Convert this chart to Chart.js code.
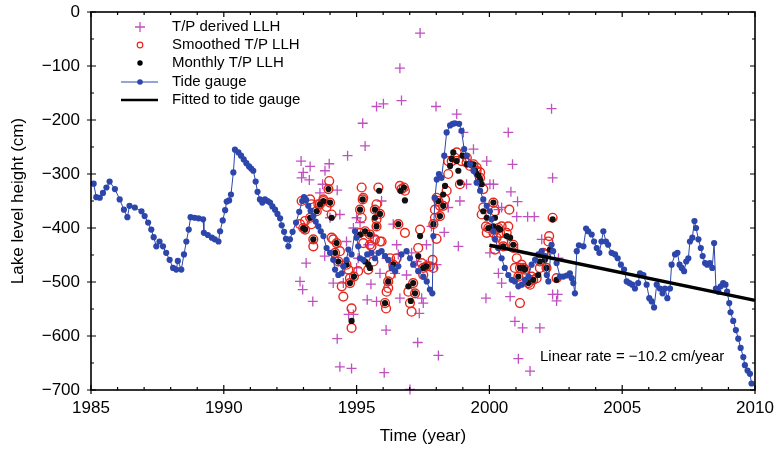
<!DOCTYPE html>
<html>
<head>
<meta charset="utf-8">
<script src="https://cdn.jsdelivr.net/npm/chart.js@4.4.1/dist/chart.umd.min.js"></script>
<style>
html,body{margin:0;padding:0;background:#fff;}
#c{display:block;}
</style>
</head>
<body>
<canvas id="c" width="776" height="450"></canvas>
<script>
// ---------- DATA ----------
const xTicks = [1985, 1990, 1995, 2000, 2005, 2010];
const xMinorTicks = [1985,1986,1987,1988,1989,1990,1991,1992,1993,1994,1995,1996,1997,1998,1999,2000,2001,2002,2003,2004,2005,2006,2007,2008,2009,2010];
const yTicks = [0, -100, -200, -300, -400, -500, -600, -700];
const yMinorTicks = [0,-50,-100,-150,-200,-250,-300,-350,-400,-450,-500,-550,-600,-650,-700];

const legendLabels = ["T/P derived LLH", "Smoothed T/P LLH", "Monthly T/P LLH", "Tide gauge", "Fitted to tide gauge"];
const rateText = "Linear rate = \u221210.2 cm/year";

// Tide gauge
const tgYear = [1985.1,1985.2,1985.33,1985.45,1985.58,1985.7,1985.9,1986.08,1986.24,1986.37,1986.45,1986.65,1986.9,1987.02,1987.15,1987.27,1987.36,1987.46,1987.58,1987.71,1987.83,1987.96,1988.09,1988.21,1988.27,1988.4,1988.5,1988.59,1988.68,1988.75,1988.9,1989.05,1989.22,1989.25,1989.4,1989.55,1989.66,1989.8,1989.86,1989.96,1990.05,1990.11,1990.2,1990.27,1990.36,1990.42,1990.55,1990.65,1990.75,1990.85,1990.95,1991.03,1991.11,1991.2,1991.27,1991.36,1991.45,1991.55,1991.65,1991.74,1991.83,1991.93,1992.02,1992.12,1992.18,1992.27,1992.34,1992.43,1992.49,1992.59,1992.72,1992.84,1992.95,1993.02,1993.1,1993.18,1993.27,1993.37,1993.46,1993.56,1993.65,1993.75,1993.87,1994.0,1994.12,1994.19,1994.31,1994.44,1994.5,1994.62,1994.69,1994.81,1994.94,1995.0,1995.06,1995.13,1995.25,1995.4,1995.56,1995.69,1995.82,1995.94,1996.07,1996.19,1996.32,1996.45,1996.57,1996.69,1996.88,1997.01,1997.13,1997.32,1997.51,1997.64,1997.76,1997.85,1997.89,1997.95,1998.02,1998.1,1998.2,1998.3,1998.39,1998.52,1998.62,1998.7,1998.86,1998.95,1999.05,1999.15,1999.27,1999.4,1999.52,1999.65,1999.77,1999.9,2000.02,2000.08,2000.15,2000.21,2000.33,2000.46,2000.58,2000.71,2000.84,2000.96,2001.09,2001.22,2001.34,2001.47,2001.59,2001.72,2001.84,2001.97,2002.09,2002.16,2002.22,2002.34,2002.4,2002.53,2002.66,2002.78,2002.91,2003.03,2003.1,2003.16,2003.22,2003.29,2003.37,2003.54,2003.64,2003.72,2003.85,2003.94,2004.04,2004.14,2004.22,2004.29,2004.39,2004.47,2004.6,2004.73,2004.83,2004.95,2005.07,2005.17,2005.27,2005.38,2005.48,2005.6,2005.67,2005.8,2005.92,2006.02,2006.11,2006.2,2006.3,2006.42,2006.52,2006.61,2006.7,2006.8,2006.86,2006.99,2007.08,2007.16,2007.24,2007.33,2007.41,2007.49,2007.55,2007.64,2007.72,2007.78,2007.87,2007.96,2008.03,2008.12,2008.2,2008.3,2008.39,2008.46,2008.53,2008.62,2008.71,2008.8,2008.89,2008.95,2009.03,2009.08,2009.18,2009.28,2009.37,2009.46,2009.56,2009.62,2009.72,2009.81,2009.87];
const tgLevel = [-318,-343,-344,-335,-325,-314,-328,-347,-366,-380,-359,-362,-369,-378,-390,-403,-417,-434,-425,-434,-446,-459,-474,-477,-461,-477,-449,-425,-403,-380,-381,-382,-384,-409,-413,-418,-421,-425,-406,-386,-367,-351,-349,-338,-297,-255,-260,-266,-273,-280,-286,-290,-294,-314,-333,-347,-353,-347,-350,-353,-360,-366,-374,-382,-395,-407,-420,-434,-421,-407,-390,-370,-350,-343,-348,-359,-368,-378,-388,-397,-406,-415,-437,-446,-459,-477,-487,-484,-471,-459,-440,-449,-406,-418,-434,-456,-459,-449,-446,-456,-446,-443,-452,-459,-474,-480,-471,-449,-443,-456,-468,-480,-490,-499,-514,-521,-415,-344,-310,-300,-307,-266,-223,-210,-207,-206,-207,-220,-254,-266,-282,-294,-316,-331,-347,-359,-369,-384,-406,-421,-437,-456,-474,-487,-496,-499,-508,-505,-496,-490,-468,-459,-449,-443,-452,-487,-499,-431,-443,-465,-490,-490,-488,-484,-493,-502,-521,-443,-432,-434,-401,-406,-412,-425,-437,-446,-425,-406,-425,-431,-446,-449,-456,-468,-477,-499,-502,-505,-512,-502,-484,-487,-505,-530,-536,-547,-505,-512,-521,-512,-530,-512,-468,-449,-446,-468,-474,-480,-462,-456,-425,-418,-387,-400,-421,-437,-452,-465,-468,-465,-474,-428,-512,-518,-508,-502,-505,-518,-539,-556,-572,-589,-605,-622,-639,-654,-664,-670,-688];

// T/P derived LLH (crosses)
const tpYear = [1992.87,1992.91,1992.93,1992.97,1992.99,1993.1,1993.22,1993.25,1993.35,1993.62,1993.72,1993.8,1993.81,1993.97,1994.0,1994.12,1994.27,1994.27,1994.31,1994.37,1994.37,1994.5,1994.56,1994.62,1994.66,1994.7,1994.81,1994.88,1994.88,1995.0,1995.0,1995.06,1995.13,1995.23,1995.32,1995.4,1995.44,1995.5,1995.54,1995.63,1995.75,1995.75,1995.88,1995.94,1996.01,1996.04,1996.11,1996.13,1996.19,1996.38,1996.45,1996.51,1996.57,1996.63,1996.63,1996.69,1996.88,1997.01,1997.07,1997.26,1997.3,1997.36,1997.39,1997.45,1997.51,1997.63,1997.63,1997.82,1997.99,1998.01,1998.08,1998.3,1998.45,1998.77,1998.83,1998.89,1999.02,1999.14,1999.4,1999.46,1999.87,1999.9,2000.02,2000.02,2000.15,2000.34,2000.34,2000.46,2000.46,2000.71,2000.78,2000.81,2000.87,2000.96,2001.03,2001.06,2001.09,2001.25,2001.44,2001.53,2001.69,2001.9,2001.97,2002.34,2002.38,2002.38,2002.53,2002.57,2002.6];
const tpLevel = [-499,-276,-307,-514,-297,-465,-311,-286,-536,-335,-319,-452,-294,-281,-381,-502,-330,-605,-462,-375,-657,-502,-471,-425,-266,-560,-660,-400,-560,-381,-474,-456,-390,-206,-248,-533,-431,-446,-504,-415,-175,-536,-484,-350,-170,-668,-589,-456,-502,-393,-484,-431,-449,-104,-530,-164,-487,-699,-446,-462,-612,-558,-39,-530,-539,-431,-468,-397,-175,-468,-636,-408,-362,-189,-434,-350,-223,-319,-254,-288,-530,-276,-319,-446,-319,-366,-484,-362,-502,-223,-527,-333,-282,-573,-379,-351,-642,-585,-379,-665,-379,-585,-421,-179,-307,-523,-535,-523,-456];

// Smoothed T/P LLH (open circles)
const smYear = [1992.87,1992.93,1992.99,1993.06,1993.06,1993.25,1993.25,1993.3,1993.3,1993.37,1993.37,1993.5,1993.56,1993.62,1993.75,1993.75,1993.87,1993.94,1993.97,1994.0,1994.06,1994.06,1994.12,1994.19,1994.25,1994.31,1994.37,1994.44,1994.5,1994.62,1994.69,1994.75,1994.75,1994.81,1994.81,1994.9,1995.06,1995.13,1995.13,1995.19,1995.19,1995.23,1995.25,1995.25,1995.32,1995.44,1995.5,1995.5,1995.56,1995.63,1995.69,1995.69,1995.75,1995.75,1995.75,1995.82,1995.88,1995.88,1995.94,1996.07,1996.11,1996.13,1996.19,1996.19,1996.26,1996.26,1996.38,1996.51,1996.57,1996.63,1996.69,1996.78,1996.82,1996.82,1996.95,1997.01,1997.07,1997.13,1997.2,1997.32,1997.39,1997.45,1997.51,1997.51,1997.63,1997.76,1997.86,1997.89,1997.89,1997.95,1997.95,1998.01,1998.01,1998.08,1998.14,1998.14,1998.26,1998.33,1998.39,1998.45,1998.45,1998.58,1998.7,1998.77,1998.89,1998.95,1999.14,1999.15,1999.27,1999.4,1999.52,1999.52,1999.65,1999.65,1999.71,1999.77,1999.77,1999.87,1999.9,1999.96,2000.15,2000.15,2000.21,2000.21,2000.27,2000.34,2000.4,2000.46,2000.52,2000.52,2000.65,2000.71,2000.75,2000.9,2000.9,2000.96,2001.03,2001.09,2001.15,2001.15,2001.21,2001.28,2001.34,2001.47,2001.53,2001.59,2001.65,2001.78,2001.9,2001.9,2002.03,2002.09,2002.15,2002.22,2002.25,2002.38,2002.53];
const smLevel = [-393,-350,-400,-403,-387,-347,-381,-356,-393,-421,-434,-369,-356,-356,-350,-347,-361,-328,-313,-353,-375,-418,-421,-446,-428,-462,-443,-508,-527,-468,-477,-493,-502,-549,-585,-490,-480,-366,-409,-325,-381,-347,-428,-344,-406,-477,-412,-431,-434,-462,-366,-421,-397,-356,-384,-325,-374,-425,-425,-539,-549,-518,-499,-511,-456,-487,-468,-456,-393,-322,-328,-325,-331,-409,-518,-539,-555,-502,-521,-437,-403,-465,-474,-487,-471,-471,-459,-393,-474,-366,-381,-420,-344,-350,-378,-359,-359,-347,-331,-300,-276,-276,-270,-260,-319,-276,-279,-270,-285,-282,-294,-288,-307,-297,-375,-328,-362,-397,-409,-400,-353,-409,-369,-440,-418,-400,-409,-397,-434,-425,-409,-397,-366,-431,-437,-474,-456,-490,-474,-539,-468,-474,-477,-502,-505,-490,-496,-493,-462,-474,-446,-449,-474,-425,-415,-381,-493];

// Monthly T/P LLH (black dots)
const moYear = [1992.99,1993.06,1993.25,1993.37,1993.5,1993.62,1993.75,1993.94,1994.0,1994.06,1994.19,1994.25,1994.31,1994.62,1994.75,1994.81,1994.9,1995.13,1995.13,1995.23,1995.32,1995.32,1995.44,1995.5,1995.5,1995.69,1995.69,1995.75,1995.85,1995.88,1996.07,1996.19,1996.38,1996.57,1996.66,1996.78,1996.82,1996.95,1997.04,1997.13,1997.2,1997.32,1997.39,1997.51,1997.63,1997.89,1998.08,1998.14,1998.26,1998.26,1998.33,1998.52,1998.58,1998.64,1998.77,1998.83,1998.89,1998.99,1999.15,1999.27,1999.4,1999.46,1999.52,1999.59,1999.65,1999.71,1999.77,1999.9,1999.96,2000.15,2000.15,2000.21,2000.34,2000.4,2000.52,2000.65,2000.78,2000.9,2001.09,2001.15,2001.28,2001.34,2001.47,2001.65,2001.84,2001.9,2002.09,2002.15,2002.28,2002.38,2002.53];
const moLevel = [-400,-403,-381,-421,-369,-356,-350,-328,-353,-381,-446,-428,-462,-468,-502,-572,-490,-366,-412,-347,-406,-462,-468,-412,-474,-366,-381,-397,-331,-374,-539,-499,-468,-393,-331,-325,-349,-508,-535,-502,-521,-452,-415,-474,-471,-393,-350,-378,-359,-338,-322,-285,-272,-260,-276,-294,-316,-266,-282,-282,-282,-294,-300,-303,-310,-319,-369,-381,-400,-353,-397,-381,-400,-403,-434,-415,-418,-431,-490,-474,-474,-477,-502,-496,-487,-462,-459,-474,-440,-384,-496];

// Fitted line to tide gauge
const fitYear = [2000, 2010];
const fitLevel = [-432, -534];

// ---------- STYLE ----------
const FONT = "'Liberation Sans', Arial, Helvetica, sans-serif";
const C_CROSS = "#c04fc0";
const C_RED = "#e8281e";
const C_BLUE = "#2c46ab";
Chart.defaults.font.family = FONT;
Chart.defaults.color = "#000";

const pts = (xs, ys) => xs.map((v, i) => ({x: v, y: ys[i]}));
const minus = v => String(v).replace('-', '\u2212');

const framePlugin = {
  id: 'frame',
  afterDatasetsDraw(chart) {
    const {ctx, chartArea: a, scales: {x, y}} = chart;
    ctx.save();
    ctx.strokeStyle = '#000';
    ctx.lineWidth = 1.6;
    ctx.strokeRect(a.left, a.top, a.right - a.left, a.bottom - a.top);
    ctx.lineWidth = 1.2;
    ctx.beginPath();
    xMinorTicks.forEach(v => {
      const px = x.getPixelForValue(v);
      const major = xTicks.includes(v);
      const inL = major ? 5 : 3;
      ctx.moveTo(px, a.bottom + (major ? 4 : 0));
      ctx.lineTo(px, a.bottom - inL);
      ctx.moveTo(px, a.top);
      ctx.lineTo(px, a.top + inL);
    });
    yMinorTicks.forEach(v => {
      const py = y.getPixelForValue(v);
      const major = yTicks.includes(v);
      const inL = major ? 5 : 3;
      ctx.moveTo(a.left - (major ? 4 : 0), py);
      ctx.lineTo(a.left + inL, py);
      ctx.moveTo(a.right, py);
      ctx.lineTo(a.right - inL, py);
    });
    ctx.stroke();

    // legend
    const sx = 140, tx = 172;
    const rows = [27, 45, 63, 82, 100];
    ctx.font = "15px " + FONT;
    ctx.fillStyle = '#000';
    ctx.textBaseline = 'middle';
    ctx.textAlign = 'left';
    legendLabels.forEach((t, i) => ctx.fillText(t, tx, rows[i]));
    ctx.strokeStyle = C_CROSS; ctx.lineWidth = 1.3;
    ctx.beginPath();
    ctx.moveTo(sx - 5, rows[0]); ctx.lineTo(sx + 5, rows[0]);
    ctx.moveTo(sx, rows[0] - 5); ctx.lineTo(sx, rows[0] + 5);
    ctx.stroke();
    ctx.strokeStyle = C_RED; ctx.lineWidth = 1.2;
    ctx.beginPath(); ctx.arc(sx, rows[1], 2.8, 0, Math.PI * 2); ctx.stroke();
    ctx.fillStyle = '#000';
    ctx.beginPath(); ctx.arc(sx, rows[2], 2.7, 0, Math.PI * 2); ctx.fill();
    ctx.strokeStyle = C_BLUE; ctx.lineWidth = 1;
    ctx.beginPath(); ctx.moveTo(121, rows[3]); ctx.lineTo(158, rows[3]); ctx.stroke();
    ctx.fillStyle = C_BLUE;
    ctx.beginPath(); ctx.arc(sx, rows[3], 2.8, 0, Math.PI * 2); ctx.fill();
    ctx.strokeStyle = '#000'; ctx.lineWidth = 2.5;
    ctx.beginPath(); ctx.moveTo(121, rows[4]); ctx.lineTo(158, rows[4]); ctx.stroke();

    ctx.fillStyle = '#000';
    ctx.font = "15px " + FONT;
    ctx.fillText(rateText, 540, 357);
    ctx.restore();
  }
};

new Chart(document.getElementById('c'), {
  type: 'scatter',
  data: {
    datasets: [
      {
        label: legendLabels[4], data: pts(fitYear, fitLevel), showLine: true,
        borderColor: '#000', borderWidth: 3.5, pointRadius: 0, order: 0, clip: false
      },
      {
        label: legendLabels[3], data: pts(tgYear, tgLevel), showLine: true,
        borderColor: C_BLUE, borderWidth: 1, backgroundColor: C_BLUE,
        pointBackgroundColor: C_BLUE, pointBorderWidth: 0, pointRadius: 3.1, order: 1, clip: false
      },
      {
        label: legendLabels[2], data: pts(moYear, moLevel),
        pointBackgroundColor: '#111', pointBorderWidth: 0, pointRadius: 3.1, order: 2, clip: false
      },
      {
        label: legendLabels[1], data: pts(smYear, smLevel),
        pointBackgroundColor: 'rgba(0,0,0,0)', pointBorderColor: C_RED, pointBorderWidth: 1.4,
        pointRadius: 4.4, order: 3, clip: false
      },
      {
        label: legendLabels[0], data: pts(tpYear, tpLevel), pointStyle: 'cross',
        pointBorderColor: C_CROSS, pointBorderWidth: 1.3, pointRadius: 5, order: 4, clip: false
      }
    ]
  },
  options: {
    responsive: false,
    animation: false,
    devicePixelRatio: 1,
    layout: {padding: {left: 0, right: 21, top: 12, bottom: 0}},
    plugins: {legend: {display: false}, tooltip: {enabled: false}},
    events: [],
    scales: {
      x: {
        type: 'linear', min: 1985, max: 2010,
        afterBuildTicks: s => { s.ticks = xTicks.map(v => ({value: v})); },
        afterFit: s => { s.height = 60; s.paddingLeft = 0; s.paddingRight = 0; },
        ticks: {font: {size: 17}, color: '#000', padding: 8, maxRotation: 0, callback: v => String(v)},
        grid: {display: false, drawTicks: false},
        border: {display: false},
        title: {display: true, text: 'Time (year)', font: {size: 17}, color: '#000', padding: {top: 0, bottom: 3}}
      },
      y: {
        type: 'linear', min: -700, max: 0,
        afterBuildTicks: s => { s.ticks = yTicks.map(v => ({value: v})); },
        afterFit: s => { s.width = 91; s.paddingTop = 0; s.paddingBottom = 0; },
        ticks: {font: {size: 17}, color: '#000', padding: 11, callback: v => minus(v)},
        grid: {display: false, drawTicks: false},
        border: {display: false},
        title: {display: true, text: 'Lake level height (cm)', font: {size: 17}, color: '#000', padding: {top: 8, bottom: 0}}
      }
    }
  },
  plugins: [framePlugin]
});
</script>
</body>
</html>
